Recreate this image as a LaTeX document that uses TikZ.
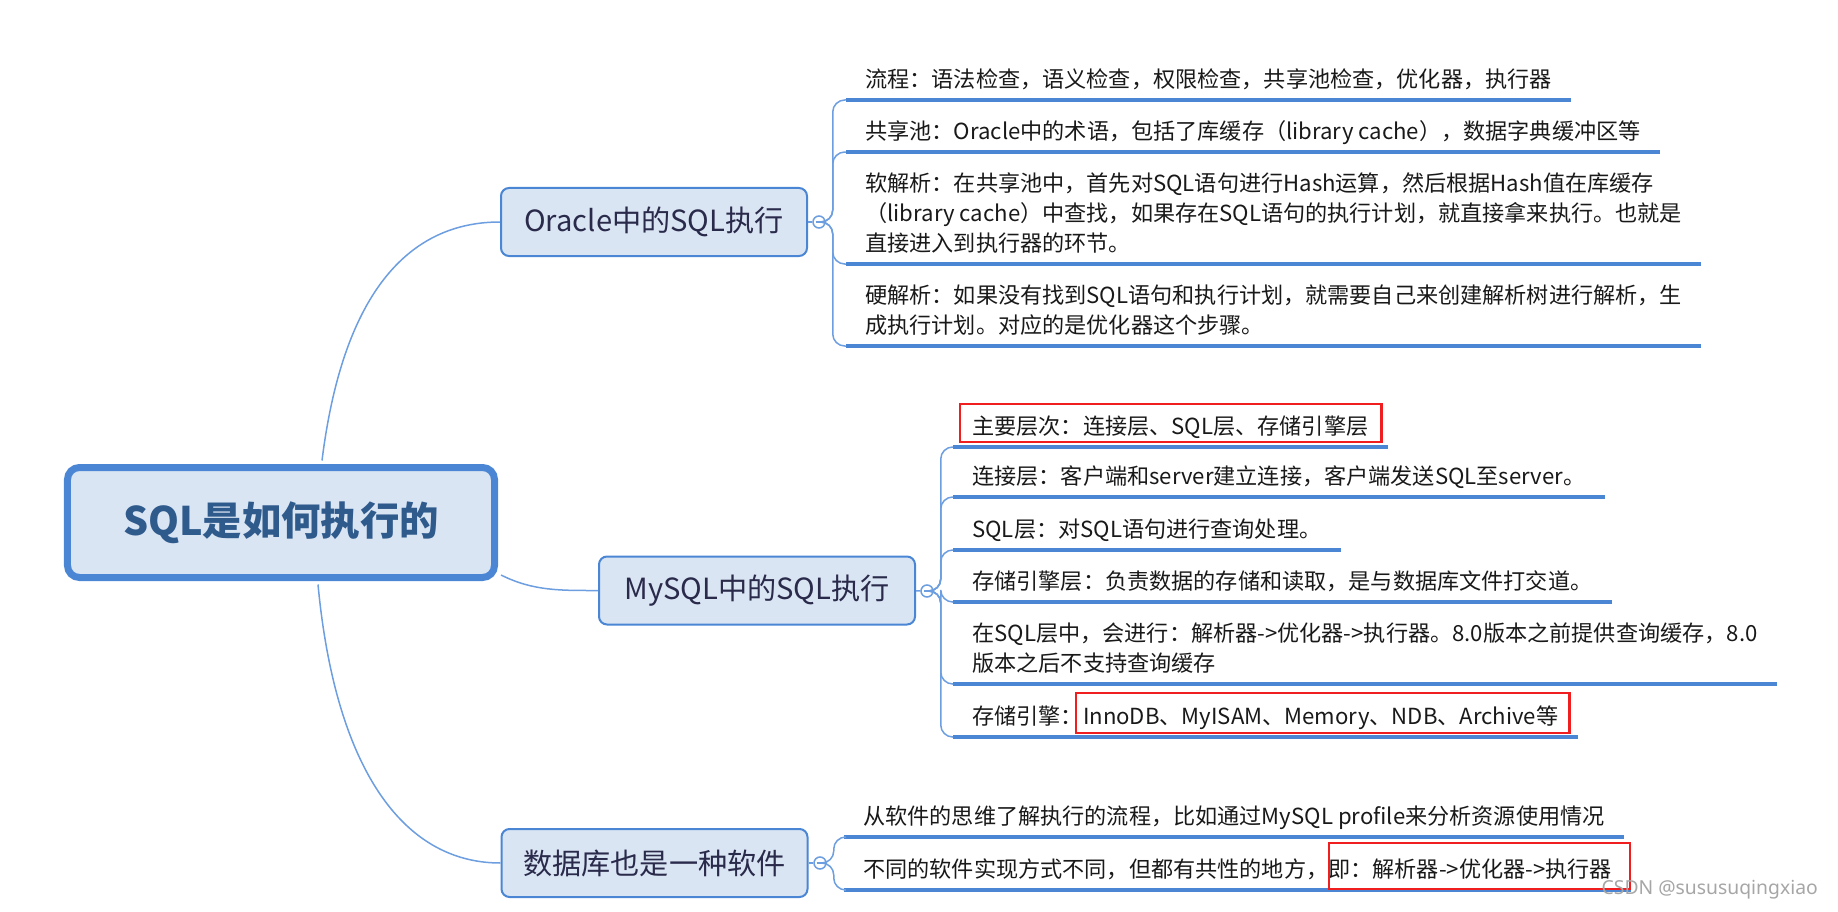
\documentclass[tikz,border=0pt]{standalone}
\usepackage{fontspec}
\setmainfont{Noto Sans CJK SC}
\newfontfamily\wmfont{Noto Sans}
\usepackage{tikz}
\usetikzlibrary{calc}
\definecolor{xmblue}{HTML}{4A86D4}
\definecolor{xmline}{HTML}{6C9EE0}
\definecolor{xmfill}{HTML}{DAE5F4}
\definecolor{xmtext}{HTML}{2F5A8C}
\definecolor{xmdark}{HTML}{2A2A4A}
\definecolor{xmred}{HTML}{F01E1E}
\newcommand\leaffont{\fontsize{12.6pt}{17pt}\selectfont}

\begin{document}
\begin{tikzpicture}[x=0.2mm,y=-0.2mm,
  root/.style={draw=xmblue,line width=1.4mm,fill=xmfill,rounded corners=2.4mm,minimum width=8.54cm,
               minimum height=2.2cm,font=\fontsize{22.4pt}{27pt}\selectfont\bfseries,text=xmtext},
  topic/.style={draw=xmblue,line width=0.4mm,fill=xmfill,rounded corners=1.6mm,minimum height=1.36cm,
                font=\fontsize{16.6pt}{20pt}\selectfont,text=xmdark},
  fold/.style={circle,draw=xmline,line width=0.3mm,fill=white,minimum size=0.24cm,inner sep=0pt,
               path picture={\draw[xmline,line width=0.25mm] ([xshift=-0.7mm]path picture bounding box.center)--([xshift=0.7mm]path picture bounding box.center);}},
  leaf/.style={anchor=south west,align=left,inner xsep=0.38cm,inner ysep=0.07cm,font=\leaffont,
               text=black!90,execute at end node=\strut},
  uline/.style={draw=xmblue,line width=0.9mm},
  brk/.style={draw=xmline,line width=0.3mm},
  redbox/.style={draw=xmred,line width=0.5mm}]
\useasboundingbox (0,0) rectangle (1838,912);
% 中心主题
\node[root] (root) at (281,522.5) {SQL是如何执行的};
\node[topic,minimum width=6.12cm] (oracle) at (654,222)   {Oracle中的SQL执行};
\node[topic,minimum width=6.32cm] (mysql)  at (757,590.5) {MySQL中的SQL执行};
\node[topic,minimum width=6.12cm] (soft)   at (654.5,863) {数据库也是一种软件};
\node[fold] (ofold) at (819,222) {};
\node[fold] (mfold) at (927,591) {};
\node[fold] (sfold) at (820,863) {};
\draw[brk] ($(root.north)+(41,-3.5)$) .. controls +(23,-184) and +(-80,0) .. (oracle.west);
\draw[brk] ($(root.south east)+(3,-6)$) .. controls +(32,16) and +(-38,0) .. (mysql.west);
\draw[brk] ($(root.south)+(37,3.5)$) .. controls +(17,180) and +(-100,0) .. (soft.west);
\draw[brk] (oracle) -- (ofold); \draw[brk] (mysql) -- (mfold); \draw[brk] (soft) -- (sfold);
% Oracle 分支
\node[leaf] (o1) at (846,100) {流程：语法检查，语义检查，权限检查，共享池检查，优化器，执行器};
\node[leaf] (o2) at (846,152) {共享池：Oracle中的术语，包括了库缓存（library cache），数据字典缓冲区等};
\node[leaf] (o3) at (846,264) {软解析：在共享池中，首先对SQL语句进行Hash运算，然后根据Hash值在库缓存\\（library cache）中查找，如果存在SQL语句的执行计划，就直接拿来执行。也就是\\直接进入到执行器的环节。};
\node[leaf] (o4) at (846,346) {硬解析：如果没有找到SQL语句和执行计划，就需要自己来创建解析树进行解析，生\\成执行计划。对应的是优化器这个步骤。};
% MySQL 分支
\node[leaf] (m1) at (953,447) {主要层次：连接层、SQL层、存储引擎层};
\node[leaf] (m2) at (953,497) {连接层：客户端和server建立连接，客户端发送SQL至server。};
\node[leaf] (m3) at (953,550) {SQL层：对SQL语句进行查询处理。};
\node[leaf] (m4) at (953,602) {存储引擎层：负责数据的存储和读取，是与数据库文件打交道。};
\node[leaf] (m5) at (953,684) {在SQL层中，会进行：解析器->优化器->执行器。8.0版本之前提供查询缓存，8.0\\版本之后不支持查询缓存};
\node[leaf] (m6) at (953,737) {存储引擎：InnoDB、MyISAM、Memory、NDB、Archive等};
% 软件分支
\node[leaf] (d1) at (844,837) {从软件的思维了解执行的流程，比如通过MySQL profile来分析资源使用情况};
\node[leaf] (d2) at (844,890) {不同的软件实现方式不同，但都有共性的地方，即：解析器->优化器->执行器};
\draw[uline] (o1.south west) -- (o1.south east); \draw[uline] (o2.south west) -- (o2.south east);
\draw[uline] (o3.south west) -- (o3.south east); \draw[uline] (o4.south west) -- (o4.south east);
\draw[uline] (m1.south west) -- (m1.south east); \draw[uline] (m2.south west) -- (m2.south east);
\draw[uline] (m3.south west) -- (m3.south east); \draw[uline] (m4.south west) -- (m4.south east);
\draw[uline] (m5.south west) -- (m5.south east); \draw[uline] (m6.south west) -- (m6.south east);
\draw[uline] (d1.south west) -- (d1.south east); \draw[uline] (d2.south west) -- (d2.south east);
\draw[brk,rounded corners=2.4mm] (ofold.east) -- ++(7,0) |- (o1.south west);
\draw[brk,rounded corners=2.4mm] (ofold.east) -- ++(7,0) |- (o2.south west);
\draw[brk,rounded corners=2.4mm] (ofold.east) -- ++(7,0) |- (o3.south west);
\draw[brk,rounded corners=2.4mm] (ofold.east) -- ++(7,0) |- (o4.south west);
\draw[brk,rounded corners=2.4mm] (mfold.east) -- ++(7,0) |- (m1.south west);
\draw[brk,rounded corners=2.4mm] (mfold.east) -- ++(7,0) |- (m2.south west);
\draw[brk,rounded corners=2.4mm] (mfold.east) -- ++(7,0) |- (m3.south west);
\draw[brk,rounded corners=2.4mm] (mfold.east) -- ++(7,0) |- (m4.south west);
\draw[brk,rounded corners=2.4mm] (mfold.east) -- ++(7,0) |- (m5.south west);
\draw[brk,rounded corners=2.4mm] (mfold.east) -- ++(7,0) |- (m6.south west);
\draw[brk,rounded corners=2.4mm] (sfold.east) -- ++(7,0) |- (d1.south west);
\draw[brk,rounded corners=2.4mm] (sfold.east) -- ++(7,0) |- (d2.south west);
% 红框
\draw[redbox] ($(m1.south west)+(7,-5)$) rectangle ($(m1.south east)+(-6,-43)$);
\draw[redbox] ($(m6.south west)+(123,-4)$) rectangle ($(m6.south east)+(-8,-44)$);
\draw[redbox] ($(d2.south west)+(485,-1)$) rectangle ($(d2.south east)+(-1,-47)$);
\node[font=\wmfont\fontsize{11pt}{13pt}\selectfont,text=gray!70,anchor=east] (wm) at (1824,890) {CSDN @sususuqingxiao};
\end{tikzpicture}
\end{document}
